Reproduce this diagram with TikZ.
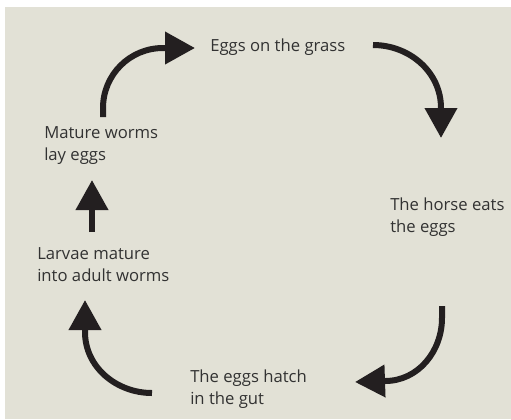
\documentclass[tikz,border=0pt]{standalone}
\usepackage{fontspec}
\setmainfont{Open Sans}
\usetikzlibrary{arrows.meta}
\definecolor{bggray}{RGB}{226,225,214}
\definecolor{inkblack}{RGB}{35,31,32}
\definecolor{textgray}{RGB}{50,50,50}
\tikzset{
  stage/.style={anchor=west,align=left,inner sep=0pt,text=textgray,
    font=\fontsize{12.5}{16.5}\selectfont},
  cycarrow/.style={line width=4.5pt,draw=inkblack,
    -{Triangle[length=22.5pt,width=23.5pt]}}
}
\begin{document}
\begin{tikzpicture}[x=0.75pt,y=-0.75pt]
  % 背景
  \useasboundingbox (0,0) rectangle (511,419);
  \fill[bggray] (5,7) rectangle (511,419);
  % 各段階
  \node[stage] (grass) at (210,47) {Eggs on the grass};
  \node[stage] (horse) at (390,217) {The horse eats\\the eggs};
  \node[stage] (hatch) at (190,389) {The eggs hatch\\in the gut};
  \node[stage] (larvae) at (37,265) {Larvae mature\\into adult worms};
  \node[stage] (mature) at (44,146) {Mature worms\\lay eggs};
  % 矢印の端点
  \coordinate (m-out) at (103,117);
  \coordinate (g-in) at (195,48);
  \coordinate (g-out) at (373,45);
  \coordinate (h-in) at (441,138);
  \coordinate (h-out) at (442,306);
  \coordinate (t-in) at (355,382);
  \coordinate (t-out) at (152,393);
  \coordinate (l-in) at (85,300);
  \coordinate (l-out) at (92,232);
  \coordinate (m-in) at (92,180);
  % 矢印
  \draw[cycarrow] (m-out) -- (103,108) to[out=90,in=180] (163,48) -- (g-in);
  \draw[cycarrow] (g-out) to[out=0,in=90] (441,108) -- (h-in);
  \draw[cycarrow] (h-out) -- (442,318) to[out=-90,in=0] (385,381) -- (t-in);
  \draw[cycarrow] (t-out) to[out=180,in=-90] (85,332) -- (l-in);
  \draw[cycarrow] (l-out) -- (m-in);
\end{tikzpicture}
\end{document}
